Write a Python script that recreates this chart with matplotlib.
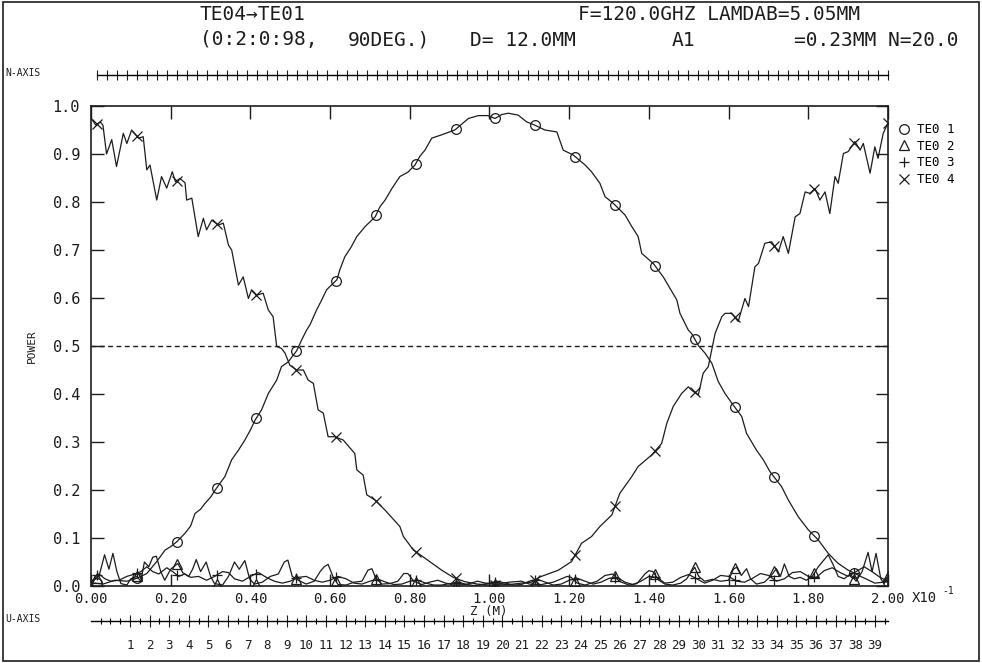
import matplotlib.pyplot as plt
import numpy as np
from matplotlib.lines import Line2D
from matplotlib.patches import Rectangle
from matplotlib.ticker import MultipleLocator

plt.rcParams['font.family'] = ['DejaVu Sans Mono', 'DejaVu Sans']

# mode powers along the converter, z in units of 0.1 m
z_te01 = [0.00, 0.01, 0.03, 0.06, 0.09, 0.115, 0.14, 0.165, 0.186, 0.20, 0.215, 0.236, 0.25,
          0.261, 0.275, 0.286, 0.30, 0.315, 0.336, 0.353, 0.37, 0.386, 0.40, 0.412, 0.428,
          0.445, 0.466, 0.478, 0.495, 0.516, 0.53, 0.541, 0.55, 0.566, 0.579, 0.591, 0.617,
          0.625, 0.637, 0.652, 0.667, 0.688, 0.713, 0.725, 0.738, 0.755, 0.775, 0.795, 0.813,
          0.825, 0.838, 0.855, 0.88, 0.913, 0.93, 0.947, 0.972, 0.996, 1.014, 1.03, 1.047,
          1.072, 1.093, 1.114, 1.139, 1.169, 1.185, 1.21, 1.24, 1.256, 1.277, 1.29, 1.311,
          1.34, 1.357, 1.373, 1.382, 1.411, 1.436, 1.453, 1.47, 1.478, 1.499, 1.507, 1.525,
          1.541, 1.558, 1.574, 1.591, 1.608, 1.633, 1.645, 1.67, 1.687, 1.704, 1.733, 1.75,
          1.775, 1.80, 1.825, 1.85, 1.875, 1.90, 1.934, 1.967, 2.00]
p_te01 = [0.005, 0.006, 0.004, 0.012, 0.010, 0.016, 0.026, 0.051, 0.075, 0.082, 0.092, 0.110, 0.125,
          0.151, 0.160, 0.172, 0.185, 0.204, 0.228, 0.263, 0.283, 0.304, 0.325, 0.346, 0.367,
          0.401, 0.429, 0.457, 0.467, 0.490, 0.515, 0.533, 0.545, 0.575, 0.596, 0.617, 0.638,
          0.660, 0.686, 0.705, 0.728, 0.749, 0.769, 0.790, 0.804, 0.828, 0.853, 0.862, 0.877,
          0.895, 0.908, 0.933, 0.940, 0.950, 0.962, 0.974, 0.980, 0.980, 0.974, 0.982, 0.985,
          0.981, 0.967, 0.960, 0.950, 0.946, 0.908, 0.898, 0.877, 0.863, 0.839, 0.811, 0.797,
          0.773, 0.749, 0.728, 0.693, 0.672, 0.644, 0.620, 0.596, 0.568, 0.533, 0.526, 0.500,
          0.485, 0.464, 0.426, 0.401, 0.381, 0.353, 0.318, 0.283, 0.263, 0.238, 0.207, 0.179,
          0.144, 0.117, 0.096, 0.068, 0.047, 0.033, 0.019, 0.006, 0.009]

z_te04 = [0.000, 0.012, 0.023, 0.030, 0.039, 0.052, 0.064, 0.073, 0.081, 0.090, 0.102, 0.119,
          0.131, 0.140, 0.148, 0.165, 0.177, 0.190, 0.204, 0.212, 0.223, 0.236, 0.240, 0.253,
          0.269, 0.282, 0.290, 0.303, 0.320, 0.332, 0.345, 0.353, 0.370, 0.382, 0.395, 0.403,
          0.416, 0.432, 0.445, 0.457, 0.466, 0.478, 0.487, 0.499, 0.516, 0.533, 0.545, 0.558,
          0.570, 0.583, 0.595, 0.612, 0.633, 0.662, 0.667, 0.683, 0.692, 0.713, 0.738, 0.775,
          0.784, 0.809, 0.838, 0.880, 0.909, 0.938, 0.970, 1.000, 1.050, 1.080, 1.106, 1.127,
          1.173, 1.206, 1.231, 1.256, 1.277, 1.307, 1.327, 1.357, 1.373, 1.407, 1.432, 1.445,
          1.461, 1.482, 1.499, 1.507, 1.524, 1.536, 1.549, 1.566, 1.583, 1.591, 1.608, 1.624,
          1.641, 1.650, 1.666, 1.675, 1.691, 1.708, 1.725, 1.737, 1.750, 1.767, 1.779, 1.792,
          1.804, 1.817, 1.829, 1.842, 1.854, 1.867, 1.875, 1.888, 1.900, 1.917, 1.930, 1.938,
          1.955, 1.967, 1.975, 1.988, 2.000]
p_te04 = [0.975, 0.960, 0.967, 0.960, 0.900, 0.930, 0.874, 0.910, 0.943, 0.922, 0.950, 0.933,
          0.936, 0.867, 0.877, 0.804, 0.853, 0.829, 0.863, 0.842, 0.849, 0.840, 0.804, 0.808,
          0.728, 0.766, 0.742, 0.762, 0.752, 0.756, 0.710, 0.700, 0.627, 0.644, 0.599, 0.617,
          0.606, 0.610, 0.575, 0.561, 0.499, 0.495, 0.485, 0.460, 0.450, 0.450, 0.429, 0.422,
          0.367, 0.360, 0.311, 0.311, 0.304, 0.276, 0.242, 0.231, 0.190, 0.179, 0.158, 0.124,
          0.103, 0.075, 0.058, 0.033, 0.018, 0.009, 0.004, 0.002, 0.003, 0.006, 0.008, 0.019,
          0.033, 0.051, 0.089, 0.103, 0.124, 0.148, 0.193, 0.228, 0.249, 0.273, 0.297, 0.339,
          0.374, 0.401, 0.415, 0.408, 0.398, 0.443, 0.457, 0.526, 0.561, 0.568, 0.568, 0.551,
          0.599, 0.582, 0.665, 0.672, 0.714, 0.717, 0.696, 0.728, 0.693, 0.769, 0.776, 0.821,
          0.818, 0.828, 0.804, 0.821, 0.776, 0.853, 0.839, 0.901, 0.905, 0.926, 0.908, 0.922,
          0.860, 0.915, 0.891, 0.943, 0.965]

z_te02 = [0.00, 0.02, 0.034, 0.045, 0.055, 0.065, 0.075, 0.09, 0.10, 0.115, 0.125, 0.134, 0.145,
          0.155, 0.164, 0.175, 0.185, 0.20, 0.218, 0.23, 0.245, 0.255, 0.264, 0.275, 0.289,
          0.30, 0.31, 0.33, 0.345, 0.36, 0.372, 0.386, 0.398, 0.41, 0.43, 0.45, 0.47, 0.485,
          0.494, 0.505, 0.52, 0.54, 0.56, 0.575, 0.585, 0.595, 0.607, 0.62, 0.64, 0.66, 0.68,
          0.695, 0.705, 0.715, 0.73, 0.75, 0.77, 0.785, 0.795, 0.81, 0.83, 0.85, 0.87, 0.89,
          0.91, 0.94, 0.97, 0.99, 1.02, 1.05, 1.08, 1.10, 1.13, 1.16, 1.18, 1.195, 1.205, 1.22,
          1.24, 1.27, 1.29, 1.31, 1.325, 1.35, 1.37, 1.39, 1.40, 1.41, 1.425, 1.44, 1.46, 1.48,
          1.495, 1.505, 1.515, 1.525, 1.54, 1.56, 1.58, 1.60, 1.612, 1.62, 1.632, 1.645, 1.655,
          1.67, 1.69, 1.705, 1.72, 1.73, 1.74, 1.752, 1.765, 1.78, 1.795, 1.81, 1.825, 1.85,
          1.862, 1.875, 1.89, 1.905, 1.92, 1.935, 1.95, 1.96, 1.97, 1.982, 1.99, 2.00]
p_te02 = [0.010, 0.020, 0.065, 0.035, 0.068, 0.030, 0.005, 0.002, 0.015, 0.020, 0.010, 0.050, 0.040,
          0.060, 0.062, 0.030, 0.012, 0.035, 0.047, 0.028, 0.020, 0.035, 0.055, 0.030, 0.050,
          0.020, 0.005, 0.002, 0.020, 0.050, 0.035, 0.053, 0.015, 0.004, 0.008, 0.020, 0.025, 0.050,
          0.054, 0.020, 0.012, 0.004, 0.010, 0.030, 0.040, 0.045, 0.020, 0.003, 0.002, 0.008, 0.010,
          0.033, 0.036, 0.015, 0.004, 0.005, 0.010, 0.026, 0.026, 0.010, 0.003, 0.008, 0.012, 0.006,
          0.002, 0.003, 0.010, 0.006, 0.004, 0.008, 0.010, 0.004, 0.003, 0.008, 0.015, 0.020, 0.018, 0.006,
          0.002, 0.010, 0.022, 0.025, 0.010, 0.002, 0.005, 0.025, 0.032, 0.030, 0.012, 0.004, 0.002, 0.006,
          0.015, 0.028, 0.039, 0.020, 0.010, 0.014, 0.010, 0.012, 0.035, 0.039, 0.022, 0.036, 0.015,
          0.004, 0.008, 0.020, 0.036, 0.020, 0.046, 0.020, 0.015, 0.018, 0.012, 0.020, 0.040, 0.065,
          0.045, 0.020, 0.015, 0.025, 0.010, 0.030, 0.070, 0.030, 0.068, 0.015, 0.005, 0.020]

z_te03 = [0.00, 0.01, 0.02, 0.035, 0.05, 0.07, 0.09, 0.11, 0.125, 0.14, 0.155, 0.17, 0.19, 0.205,
          0.22, 0.235, 0.25, 0.27, 0.29, 0.31, 0.33, 0.345, 0.36, 0.38, 0.40, 0.42, 0.44, 0.46,
          0.48, 0.50, 0.52, 0.54, 0.56, 0.58, 0.60, 0.62, 0.64, 0.66, 0.68, 0.70, 0.72, 0.74,
          0.76, 0.78, 0.80, 0.82, 0.84, 0.86, 0.88, 0.90, 0.92, 0.94, 0.96, 0.98, 1.00, 1.02,
          1.04, 1.06, 1.08, 1.10, 1.12, 1.14, 1.16, 1.18, 1.20, 1.22, 1.24, 1.26, 1.28, 1.30,
          1.32, 1.34, 1.36, 1.38, 1.40, 1.42, 1.44, 1.46, 1.48, 1.50, 1.52, 1.54, 1.56, 1.58,
          1.60, 1.62, 1.64, 1.66, 1.68, 1.70, 1.72, 1.74, 1.76, 1.78, 1.80, 1.82, 1.84, 1.86,
          1.88, 1.90, 1.92, 1.94, 1.96, 1.98, 2.00]
p_te03 = [0.002, 0.020, 0.025, 0.015, 0.010, 0.012, 0.020, 0.025, 0.030, 0.040, 0.030, 0.025, 0.038,
          0.030, 0.020, 0.025, 0.018, 0.020, 0.012, 0.020, 0.030, 0.028, 0.015, 0.010, 0.020, 0.028,
          0.018, 0.010, 0.006, 0.010, 0.018, 0.020, 0.012, 0.008, 0.012, 0.020, 0.015, 0.006, 0.004,
          0.010, 0.014, 0.008, 0.003, 0.004, 0.010, 0.012, 0.006, 0.002, 0.002, 0.005, 0.008, 0.004,
          0.001, 0.003, 0.006, 0.010, 0.006, 0.002, 0.003, 0.010, 0.014, 0.008, 0.002, 0.004, 0.012,
          0.016, 0.010, 0.004, 0.008, 0.016, 0.018, 0.008, 0.003, 0.010, 0.020, 0.018, 0.006, 0.008,
          0.018, 0.024, 0.015, 0.006, 0.012, 0.022, 0.020, 0.010, 0.008, 0.016, 0.026, 0.022, 0.010,
          0.015, 0.028, 0.030, 0.020, 0.018, 0.032, 0.038, 0.028, 0.020, 0.030, 0.040, 0.030, 0.018,
          0.010]

# symbols are plotted every 0.1 along z
mark_z = np.append(np.arange(0.015, 2.0, 0.1), 2.0)

xticks = np.arange(0, 2.01, 0.2)
yticks = np.arange(0, 1.01, 0.1)
u_numbers = list(range(1, 40))

series = [
    (z_te01, p_te01, 'o', 'TE0 1'),
    (z_te02, p_te02, '^', 'TE0 2'),
    (z_te03, p_te03, '+', 'TE0 3'),
    (z_te04, p_te04, 'x', 'TE0 4'),
]

ink = '#1c1c1c'
H = 663.0
W = 982.0


def fx(px):
    return px / W


def fy(py):
    return 1 - py / H


fig = plt.figure(figsize=(9.82, 6.63), dpi=100)
ax = fig.add_axes([fx(91), 77 / H, 797 / W, 480 / H])

handles = []
for z, p, m, name in series:
    ax.plot(z, p, color=ink, lw=0.9)
    ax.plot(mark_z, np.interp(mark_z, z, p), ls='none', marker=m, ms=7,
            mfc='none', mec=ink, mew=0.9)
    handles.append(Line2D([], [], ls='none', marker=m, ms=7, mfc='none',
                          mec=ink, mew=0.9, label=name))

ax.axhline(0.5, color=ink, lw=1.0, ls=(0, (3.5, 2.5)))

ax.set_xlim(0, 2)
ax.set_ylim(0, 1)
ax.set_xticks(xticks)
ax.set_xticklabels(['%.2f' % v for v in xticks])
ax.set_yticks(yticks)
ax.set_yticklabels(['%.1f' % v for v in yticks])
ax.tick_params(direction='in', length=9, width=1.0, top=True, right=True, colors=ink)
ax.tick_params(axis='y', pad=8, labelsize=11)
ax.tick_params(axis='x', pad=4, labelsize=10)
for s in ax.spines.values():
    s.set_linewidth(1.2)
    s.set_color(ink)

ax.set_ylabel('POWER', fontsize=8, labelpad=11, color=ink)
fig.text(fx(489), fy(612), 'Z (M)', fontsize=9, ha='center', va='center', color=ink)

fig.text(fx(912), fy(598), 'X10', fontsize=10, va='center', color=ink)
fig.text(fx(942), fy(591), '-1', fontsize=7, va='center', color=ink)

fig.legend(handles=handles, loc='upper left', bbox_to_anchor=(fx(893), fy(118)),
           frameon=False, fontsize=9, handlelength=1.0, handletextpad=0.5,
           labelspacing=0.3, borderaxespad=0)

# header lines
fig.text(fx(200), fy(15), 'TE04→TE01', fontsize=14, va='center', color=ink)
fig.text(fx(578), fy(15), 'F=120.0GHZ LAMDAB=5.05MM', fontsize=14, va='center', color=ink)
fig.text(fx(200), fy(40), '(0:2:0:98,', fontsize=14, va='center', color=ink)
fig.text(fx(348), fy(40), '90DEG.)', fontsize=14, va='center', color=ink)
fig.text(fx(470), fy(40), 'D= 12.0MM', fontsize=14, va='center', color=ink)
fig.text(fx(672), fy(40), 'A1', fontsize=14, va='center', color=ink)
fig.text(fx(958), fy(40), '=0.23MM N=20.0', fontsize=14, ha='right', va='center', color=ink)

# N-axis ruler
axn = fig.add_axes([fx(97), fy(75), 791 / W, 0.0001])
axn.set_xlim(0, 79)
axn.xaxis.set_major_locator(MultipleLocator(1))
axn.set_yticks([])
axn.tick_params(axis='x', direction='inout', length=7, width=0.8, labelbottom=False, colors=ink)
for k in ['top', 'left', 'right']:
    axn.spines[k].set_visible(False)
axn.spines['bottom'].set_linewidth(1.0)
fig.text(fx(5), fy(73), 'N-AXIS', fontsize=7, va='center', color=ink)

# U-axis ruler with numbered marks
axu = fig.add_axes([fx(91), fy(621), 797 / W, 0.0001])
axu.set_xlim(-0.99, 39.67)
axu.set_xticks(u_numbers)
axu.set_xticklabels([str(k) for k in u_numbers])
axu.xaxis.set_minor_locator(MultipleLocator(0.5))
axu.set_yticks([])
axu.tick_params(axis='x', which='major', direction='inout', length=8, width=0.8,
                labelsize=9, pad=9, colors=ink)
axu.tick_params(axis='x', which='minor', direction='inout', length=5, width=0.8)
for k in ['top', 'left', 'right']:
    axu.spines[k].set_visible(False)
axu.spines['bottom'].set_linewidth(1.0)
fig.text(fx(5), fy(619), 'U-AXIS', fontsize=7, va='center', color=ink)

fig.add_artist(Rectangle((0.003, 0.003), 0.994, 0.994, transform=fig.transFigure,
                         fill=False, lw=1.2, ec=ink))

fig.savefig('out.png', dpi=100)
